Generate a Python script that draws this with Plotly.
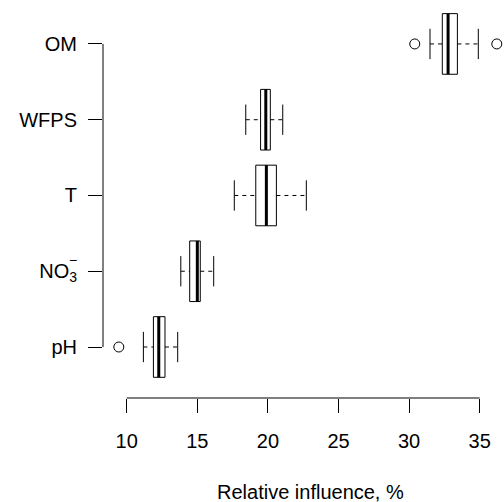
import plotly.graph_objects as go

# Predictors, bottom to top
labels = ["pH", "NO<sub>3</sub>", "T", "WFPS", "OM"]
positions = [1, 2, 3, 4, 5]

# Five-number summaries of relative influence (%)
lower_whisker = [11.18, 13.83, 17.62, 18.43, 31.48]
q1 = [11.89, 14.46, 19.14, 19.48, 32.35]
median = [12.27, 15.00, 19.89, 19.85, 32.76]
q3 = [12.71, 15.21, 20.60, 20.17, 33.42]
upper_whisker = [13.61, 16.16, 22.72, 21.05, 34.90]

# Outlying values
outlier_pos = [1, 5, 5]
outlier_val = [9.44, 30.40, 36.21]

x_ticks = [10, 15, 20, 25, 30, 35]

HALF = 0.4      # half box height
CAP = 0.2       # half staple length
BLACK = "black"

fig = go.Figure()

for p, lw, a, m, b, uw in zip(positions, lower_whisker, q1, median, q3, upper_whisker):
    # box
    fig.add_trace(go.Scatter(
        x=[a, b, b, a, a], y=[p - HALF, p - HALF, p + HALF, p + HALF, p - HALF],
        mode="lines", line=dict(color=BLACK, width=1), hoverinfo="skip"))
    # median
    fig.add_trace(go.Scatter(
        x=[m, m], y=[p - HALF, p + HALF],
        mode="lines", line=dict(color=BLACK, width=3), hoverinfo="skip"))
    # dashed whiskers
    fig.add_trace(go.Scatter(
        x=[lw, a, None, b, uw], y=[p, p, None, p, p],
        mode="lines", line=dict(color=BLACK, width=1, dash="4px,4px"), hoverinfo="skip"))
    # staples
    fig.add_trace(go.Scatter(
        x=[lw, lw, None, uw, uw], y=[p - CAP, p + CAP, None, p - CAP, p + CAP],
        mode="lines", line=dict(color=BLACK, width=1), hoverinfo="skip"))

fig.add_trace(go.Scatter(
    x=outlier_val, y=outlier_pos, mode="markers",
    marker=dict(symbol="circle-open", size=10, color=BLACK, line=dict(width=1)),
    hoverinfo="skip"))

font = dict(family="Liberation Sans, Arial, sans-serif", size=20, color=BLACK)

fig.update_layout(
    width=504, height=502,
    margin=dict(l=103, r=0, t=0, b=104),
    paper_bgcolor="white", plot_bgcolor="white",
    showlegend=False,
    font=font,
    xaxis=dict(
        range=[8.32, 36.72], tickvals=x_ticks, ticktext=[str(t) for t in x_ticks],
        ticks="outside", ticklen=14, tickwidth=1, tickcolor=BLACK,
        showline=False, showgrid=False, zeroline=False,
        ticklabelstandoff=11, tickfont=font,
    ),
    yaxis=dict(
        range=[0.327, 5.58], tickvals=positions, ticktext=labels,
        ticks="outside", ticklen=14, tickwidth=1, tickcolor=BLACK,
        showline=False, showgrid=False, zeroline=False,
        ticklabelstandoff=7, tickfont=font,
    ),
    shapes=[
        # axis lines spanning only the tick range
        dict(type="line", xref="x", yref="paper", x0=x_ticks[0], x1=x_ticks[-1],
             y0=0, y1=0, line=dict(color=BLACK, width=1)),
        dict(type="line", xref="paper", yref="y", x0=0, x1=0,
             y0=positions[0], y1=positions[-1], line=dict(color=BLACK, width=1)),
    ],
    annotations=[
        dict(text="Relative influence, %", xref="paper", yref="paper",
             x=0.517, y=-0.236, xanchor="center", yanchor="middle",
             showarrow=False, font=font),
        # charge sign stacked above the subscript of NO3
        dict(text="−", xref="paper", yref="y", x=0, y=positions[1],
             xanchor="right", yanchor="middle", xshift=-24, yshift=11,
             showarrow=False, font=dict(family=font["family"], size=14, color=BLACK)),
    ],
)

fig.write_html("out.html")
